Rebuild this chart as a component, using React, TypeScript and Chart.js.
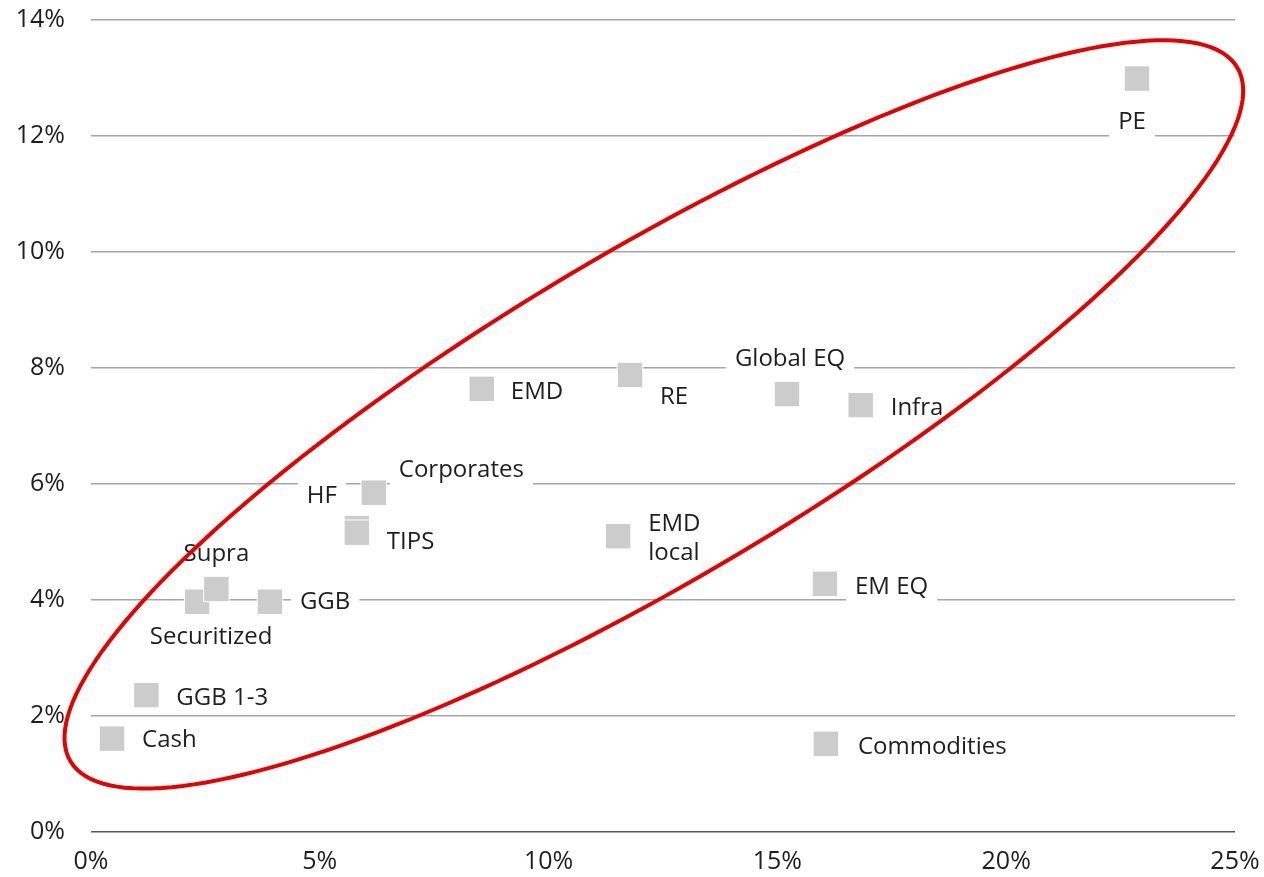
import React, { useEffect, useRef } from "react";
import { Chart, registerables } from "chart.js";

Chart.register(...registerables);

// ---- data ----
const categories = [
  "Cash", "GGB 1-3", "Securitized", "Supra", "GGB", "HF", "TIPS", "Corporates",
  "EMD", "EMD\nlocal", "RE", "Global EQ", "Infra", "EM EQ", "Commodities", "PE",
];
const volatility = [0.46, 1.21, 2.32, 2.74, 3.91, 5.81, 5.81, 6.18, 8.54, 11.52, 11.78, 15.21, 16.82, 16.04, 16.06, 22.86];
const expectedReturn = [1.61, 2.36, 3.97, 4.19, 3.97, 5.24, 5.16, 5.85, 7.64, 5.1, 7.88, 7.55, 7.36, 4.28, 1.52, 12.99];

const xTicks = [0, 5, 10, 15, 20, 25];
const yTicks = [0, 2, 4, 6, 8, 10, 12, 14];

// label placement (pixel offsets from the marker, and alignment)
const labelDx = [30, 30, 14, 0, 30, -20, 30, 25, 29, 30, 30, 3, 30, 30, 32, -5];
const labelDy = [2, 3, 35, -35, 0, -32, 9, -23, 3, 2, 22, -35, 3, 3, 3, 44];
const labelAlign: CanvasTextAlign[] = [
  "left", "left", "center", "center", "left", "right", "left", "left",
  "left", "left", "left", "center", "left", "left", "left", "center",
];

// highlight ellipse in data units: centre and two conjugate half-axes
const ellipseCenter = [12.3, 7.2];
const ellipseAxisU = [12.75, 5.98];
const ellipseAxisV = [1.82, -2.42];

const FONT = "'Open Sans', 'Noto Sans', sans-serif";
const TEXT = "#1e1e1e";
const FONT_SIZE = 24;
const TICK_SIZE = 25;

const labelPlugin = {
  id: "pointLabels",
  beforeDatasetsDraw(chart: any) {
    const ctx = chart.ctx;
    const meta = chart.getDatasetMeta(0);
    ctx.save();
    ctx.font = `400 ${FONT_SIZE}px ${FONT}`;
    ctx.textBaseline = "middle";
    const lineH = 29;
    meta.data.forEach((el: any, i: number) => {
      const lines = categories[i].split("\n");
      const ax = el.x + labelDx[i];
      const ay = el.y + labelDy[i];
      const w = Math.max(...lines.map((l) => ctx.measureText(l).width));
      const h = lines.length * lineH;
      let left = ax;
      if (labelAlign[i] === "center") left = ax - w / 2;
      if (labelAlign[i] === "right") left = ax - w;
      ctx.fillStyle = "#ffffff";
      ctx.fillRect(left - 9, ay - h / 2 - 3, w + 18, h + 4);
      ctx.fillStyle = TEXT;
      ctx.textAlign = labelAlign[i];
      lines.forEach((l, k) => {
        ctx.fillText(l, ax, ay - h / 2 + lineH / 2 + k * lineH);
      });
    });
    ctx.restore();
  },
  afterDatasetsDraw(chart: any) {
    const ctx = chart.ctx;
    const xs = chart.scales.x;
    const ys = chart.scales.y;
    ctx.save();
    ctx.strokeStyle = "#e60000";
    ctx.lineWidth = 4;
    ctx.beginPath();
    const n = 200;
    for (let k = 0; k <= n; k++) {
      const t = (k / n) * Math.PI * 2;
      const dx = ellipseCenter[0] + Math.cos(t) * ellipseAxisU[0] + Math.sin(t) * ellipseAxisV[0];
      const dy = ellipseCenter[1] + Math.cos(t) * ellipseAxisU[1] + Math.sin(t) * ellipseAxisV[1];
      const px = xs.getPixelForValue(dx);
      const py = ys.getPixelForValue(dy);
      if (k === 0) ctx.moveTo(px, py);
      else ctx.lineTo(px, py);
    }
    ctx.closePath();
    ctx.stroke();
    ctx.restore();
  },
};

const zeroPad = (s: any) => {
  s.paddingTop = 0;
  s.paddingBottom = 0;
  s.paddingLeft = 0;
  s.paddingRight = 0;
};

export default function App() {
  const ref = useRef<HTMLCanvasElement>(null);
  useEffect(() => {
    if (!ref.current) return;
    const chart = new Chart(ref.current, {
      type: "scatter",
      data: {
        datasets: [
          {
            data: volatility.map((v, i) => ({ x: v, y: expectedReturn[i] })),
            pointStyle: "rect",
            pointRadius: 18,
            pointHoverRadius: 18,
            backgroundColor: "#cccccc",
            borderColor: "#ffffff",
            borderWidth: 1,
          },
        ],
      },
      options: {
        animation: false,
        responsive: true,
        maintainAspectRatio: false,
        layout: { padding: { top: 20, right: 29, left: 0, bottom: 0 } },
        plugins: { legend: { display: false }, tooltip: { enabled: false } },
        scales: {
          x: {
            type: "linear",
            min: xTicks[0],
            max: xTicks[xTicks.length - 1],
            afterBuildTicks: (s: any) => { s.ticks = xTicks.map((v) => ({ value: v })); },
            afterFit: (s: any) => { s.height = 45; zeroPad(s); },
            grid: { display: false, drawTicks: false },
            border: { display: false },
            ticks: {
              padding: 15,
              color: TEXT,
              font: { family: FONT, size: TICK_SIZE, weight: 400 },
              callback: (v: any) => `${v}%`,
              maxRotation: 0,
            },
          },
          y: {
            type: "linear",
            min: yTicks[0],
            max: yTicks[yTicks.length - 1],
            afterBuildTicks: (s: any) => { s.ticks = yTicks.map((v) => ({ value: v })); },
            afterFit: (s: any) => { s.width = 91; zeroPad(s); },
            grid: {
              drawTicks: false,
              color: (c: any) => (c.tick && c.tick.value === 0 ? "#595959" : "#a6a6a6"),
              lineWidth: 1.5,
            },
            border: { display: false },
            ticks: {
              padding: 26,
              color: TEXT,
              font: { family: FONT, size: TICK_SIZE, weight: 400 },
              callback: (v: any) => `${v}%`,
            },
          },
        },
      },
      plugins: [labelPlugin],
    });
    return () => chart.destroy();
  }, []);
  return (
    <div style={{ position: "fixed", left: 0, top: 0, width: 1264, height: 877, background: "#fff" }}>
      <canvas ref={ref} />
    </div>
  );
}
